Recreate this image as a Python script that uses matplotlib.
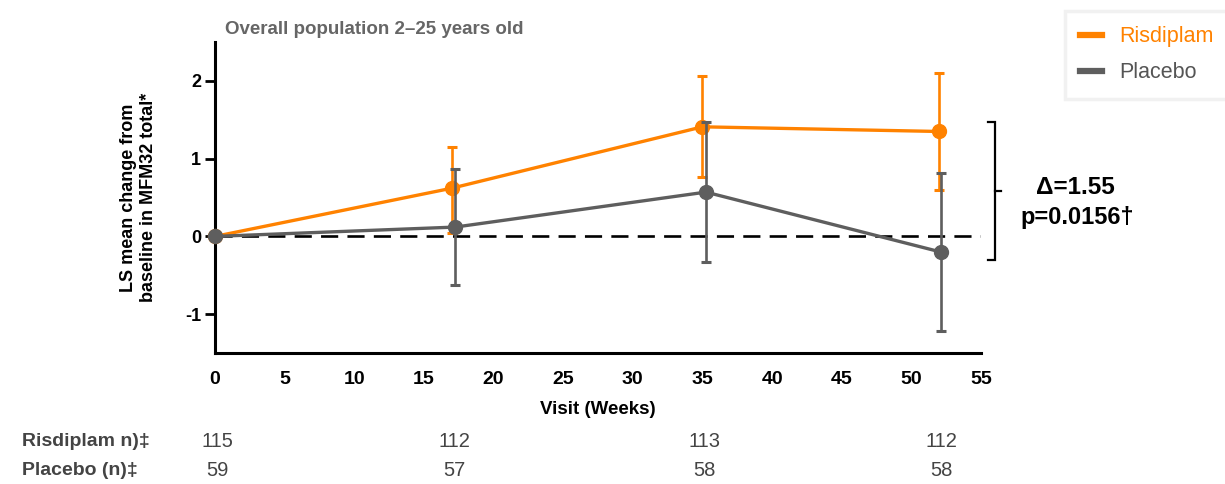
import matplotlib
matplotlib.use("Agg")
import matplotlib.pyplot as plt
import numpy as np

plt.rcParams['font.family'] = ['Liberation Sans', 'DejaVu Sans']
plt.rcParams['axes.unicode_minus'] = False

# Visit weeks and LS mean change from baseline (with CI bounds)
weeks = [0, 17, 35, 52]
risdiplam_mean = [0.0, 0.62, 1.41, 1.35]
risdiplam_low = [0.0, 0.05, 0.76, 0.60]
risdiplam_high = [0.0, 1.15, 2.06, 2.10]
placebo_mean = [0.0, 0.12, 0.57, -0.20]
placebo_low = [0.0, -0.63, -0.33, -1.22]
placebo_high = [0.0, 0.87, 1.47, 0.82]

risdiplam_n = [115, 112, 113, 112]
placebo_n = [59, 57, 58, 58]

x_ticks = [0, 5, 10, 15, 20, 25, 30, 35, 40, 45, 50, 55]
y_ticks = [-1, 0, 1, 2]

ORANGE = '#FF8200'
GREY = '#5E5E5E'

fig = plt.figure(figsize=(12.25, 4.84), dpi=100)
ax = fig.add_axes([0.1755, 0.2707, 0.8008 - 0.1755, 0.913 - 0.2707])

ax.set_xlim(0, 55)
ax.set_ylim(-1.5, 2.5)

# reference line at zero
ax.axhline(0, color='black', lw=1.9, dashes=(6.5, 3.5), zorder=1)

def draw_series(x, mean, low, high, color, z):
    mean = np.asarray(mean)
    yerr = np.vstack([mean - np.asarray(low), np.asarray(high) - mean])
    ax.errorbar(x[1:], mean[1:], yerr=yerr[:, 1:], fmt='none', ecolor=color,
                elinewidth=1.9, capsize=3.5, capthick=2.2, zorder=z)
    ax.plot(x, mean, color=color, lw=2.4, marker='o', markersize=10,
            zorder=z + 1, clip_on=False)

x_r = np.array(weeks, dtype=float)
x_p = x_r + np.array([0, 0.25, 0.25, 0.1])
draw_series(x_r, risdiplam_mean, risdiplam_low, risdiplam_high, ORANGE, 3)
draw_series(x_p, placebo_mean, placebo_low, placebo_high, GREY, 5)

for s in ['top', 'right']:
    ax.spines[s].set_visible(False)
ax.spines['left'].set_linewidth(2.2)
ax.spines['bottom'].set_linewidth(2.2)

ax.set_xticks(x_ticks)
ax.set_yticks(y_ticks)
ax.tick_params(axis='x', length=0, pad=13)
ax.tick_params(axis='y', length=7, width=2, pad=3)
for lab in ax.get_xticklabels():
    lab.set_fontweight('bold')
    lab.set_fontsize(14)
for lab in ax.get_yticklabels():
    lab.set_fontweight('bold')
    lab.set_fontsize(13)

ax.set_xlabel('Visit (Weeks)', fontsize=13.5, fontweight='bold', labelpad=9)
ax.set_ylabel('LS mean change from\nbaseline in MFM32 total*', fontsize=13,
              fontweight='bold', labelpad=20, linespacing=1.25)

ax.text(0.013, 1.026, 'Overall population 2\u201325 years old', transform=ax.transAxes,
        fontsize=13.5, fontweight='bold', color='#666666', ha='left', va='baseline')

# bracket for the treatment difference at week 52
bx = 1.0185
y_top, y_bot, y_mid = 1.47, -0.31, 0.59
tr = ax.get_yaxis_transform()
ax.plot([bx - 0.009, bx, bx, bx - 0.009], [y_top, y_top, y_bot, y_bot],
        transform=tr, color='black', lw=1.6, clip_on=False, solid_joinstyle='miter')
ax.plot([bx, bx + 0.008], [y_mid, y_mid], transform=tr,
        color='black', lw=1.6, clip_on=False)
fig.text(0.8775, 0.613, '\u0394=1.55', fontsize=17.5, fontweight='bold',
         ha='center', va='center')
fig.text(0.8795, 0.551, 'p=0.0156\u2020', fontsize=17, fontweight='bold',
         ha='center', va='center')

# legend
handles = [plt.Line2D([], [], color=ORANGE, lw=4.5),
           plt.Line2D([], [], color=GREY, lw=4.5)]
leg = fig.legend(handles, ['Risdiplam', 'Placebo'], loc='upper right',
                 bbox_to_anchor=(1.012, 1.0), frameon=True, fontsize=15.5,
                 handlelength=1.0, handletextpad=0.8, borderpad=0.72,
                 labelspacing=0.7, fancybox=False, shadow=False)
leg.get_frame().set_edgecolor('#EEEEEE')
leg.get_frame().set_linewidth(2.5)
for t, c in zip(leg.get_texts(), [ORANGE, '#555555']):
    t.set_color(c)

# patient counts under the axis
row_y = [0.088, 0.028]
fig.text(0.018, row_y[0], 'Risdiplam n)\u2021', fontsize=14, fontweight='bold',
         color='#444444', va='center')
fig.text(0.018, row_y[1], 'Placebo (n)\u2021', fontsize=14, fontweight='bold',
         color='#444444', va='center')
for w, rn, pn in zip(weeks, risdiplam_n, placebo_n):
    xf = fig.transFigure.inverted().transform(ax.transData.transform((w, 0)))[0]
    fig.text(xf + 0.002, row_y[0], str(rn), fontsize=14.5, color='#444444',
             ha='center', va='center')
    fig.text(xf + 0.002, row_y[1], str(pn), fontsize=14.5, color='#444444',
             ha='center', va='center')

fig.savefig('out.png', dpi=100)
